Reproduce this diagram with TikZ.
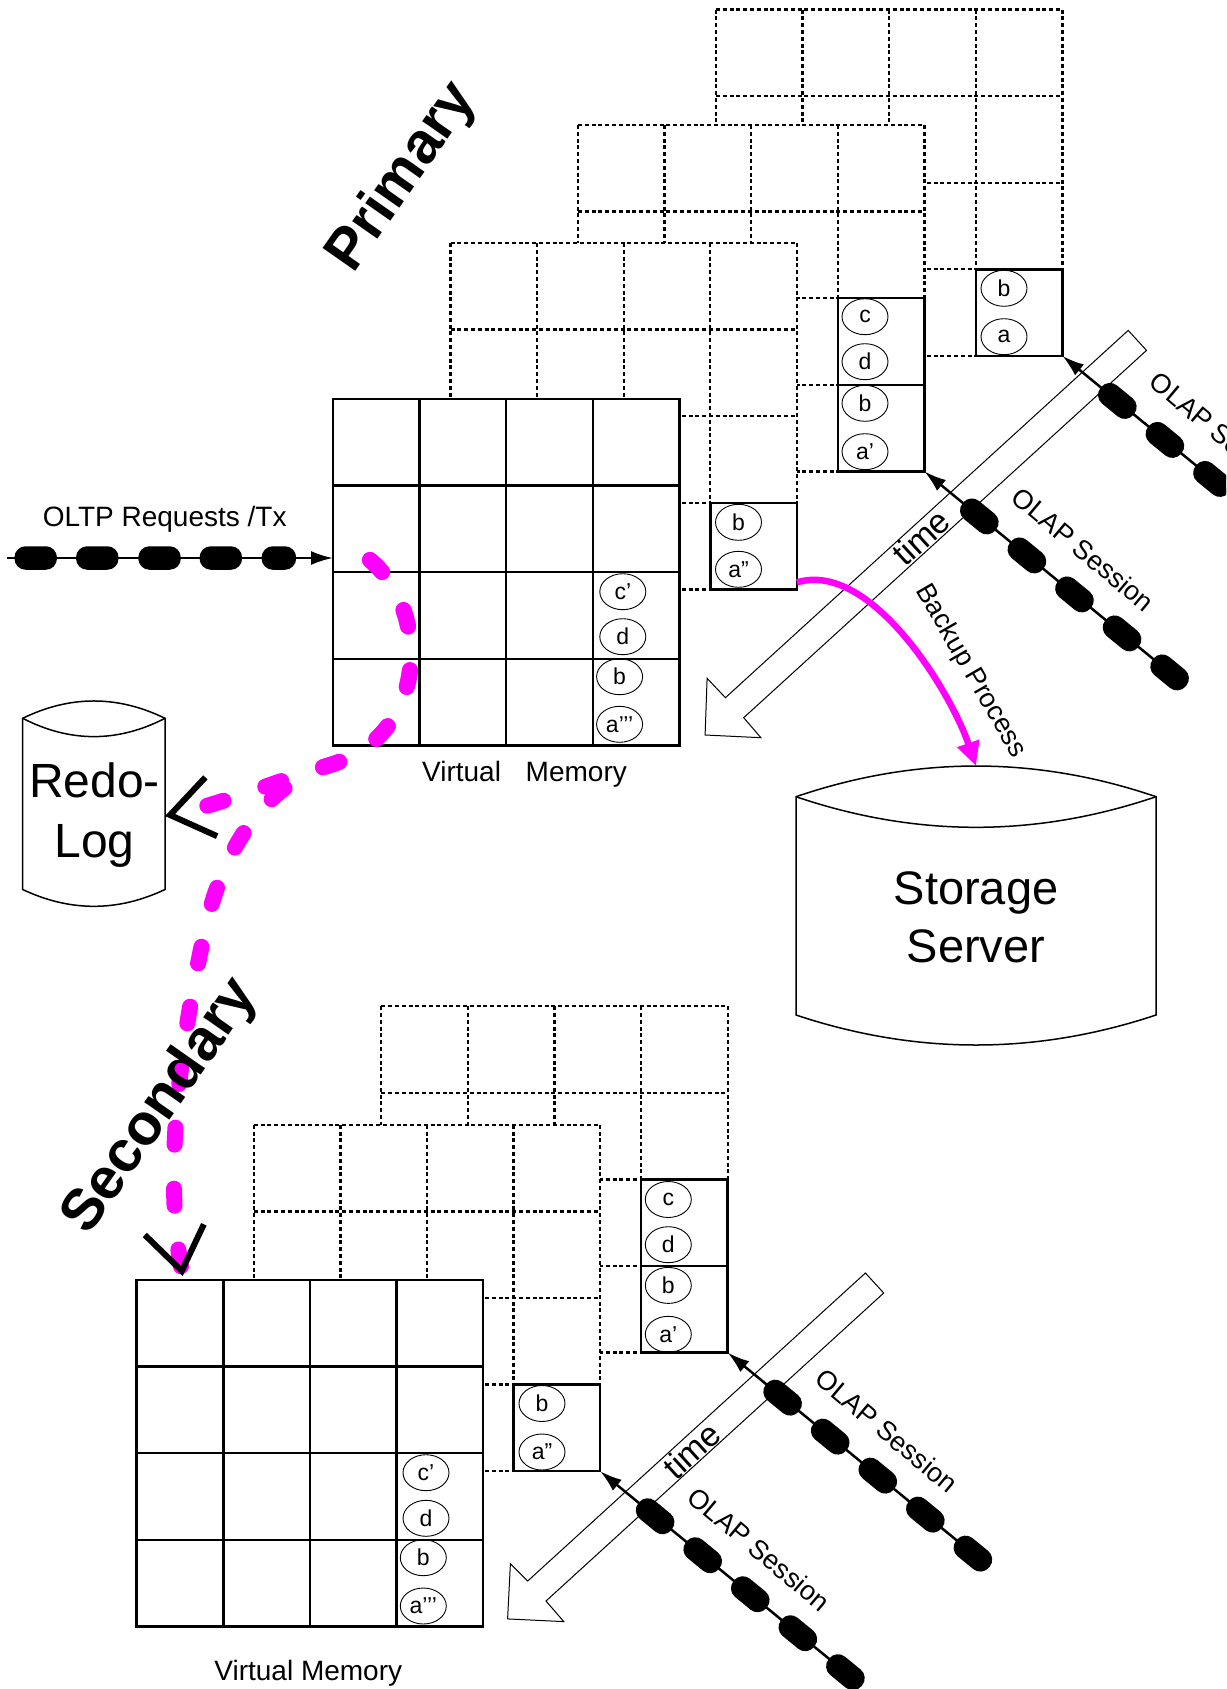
\documentclass[tikz,border=0pt]{standalone}
\usepackage{fontspec}
\setmainfont{Liberation Sans}
\usetikzlibrary{arrows.meta,shapes.geometric}
\definecolor{logmagenta}{HTML}{FF00FF}

\newcommand{\cellsz}{86.6}
% dotted 4x4 page layer with top left corner (#1,#2)
\newcommand{\memlayer}[2]{%
  \fill[white] (#1,#2) rectangle ++(4*\cellsz,4*\cellsz);
  \foreach \k in {0,...,4} {
    \draw[layergrid] (#1+\k*\cellsz,#2) -- ++(0,4*\cellsz);
    \draw[layergrid] (#1,#2+\k*\cellsz) -- ++(4*\cellsz,0);
  }%
}
% solid front grid, node name #1, top left corner (#2,#3)
\newcommand{\frontgrid}[3]{%
  \node[frontbox] (#1) at (#2+2*\cellsz,#3+2*\cellsz) {};
  \foreach \k in {1,2,3} {
    \draw[gridline] (#2+\k*\cellsz,#3) -- ++(0,4*\cellsz);
    \draw[gridline] (#2,#3+\k*\cellsz) -- ++(4*\cellsz,0);
  }%
}

\begin{document}
\begin{tikzpicture}[x=1pt,y=-1pt,
  layergrid/.style={line width=2.3pt,dash pattern=on 4pt off 2.8pt},
  gridline/.style={line width=2.5pt},
  frontbox/.style={draw,line width=2.5pt,fill=white,minimum width=346.4pt,minimum height=346.4pt,inner sep=0pt,outer sep=0pt},
  hotbox/.style={draw,line width=2.5pt,fill=white,minimum width=86.6pt,minimum height=86.6pt,inner sep=0pt,outer sep=0pt,anchor=north west},
  tuple/.style={ellipse,draw,line width=0.9pt,minimum width=46pt,minimum height=36pt,inner sep=0pt,font=\fontsize{23}{26}\selectfont},
  pill/.style={draw,fill=black,rounded corners=10pt,minimum width=40,minimum height=21pt,inner sep=0pt},
  sessline/.style={line width=2.5pt,-{Latex[length=22pt,width=14pt]}},
  txtlabel/.style={font=\fontsize{28}{34}\selectfont},
  sesslabel/.style={font=\fontsize{27}{32}\selectfont,rotate=-40},
  timearrow/.style={line width=1pt,fill=white},
  timelabel/.style={font=\fontsize{34}{40}\selectfont,rotate=42.4},
  backup/.style={logmagenta,line width=6.5pt,-{Triangle[length=24pt,width=22pt]}},
  logstream/.style={logmagenta,line width=16pt,line cap=round,dash pattern=on 17pt off 44pt,
    -{Straight Barb[length=42pt,width=60pt,line width=6pt,color=black]}},
  cylline/.style={line width=1.5pt},
  sitelabel/.style={font=\bfseries\fontsize{58}{64}\selectfont,rotate=55}]

  \useasboundingbox (0,0) rectangle (1226,1689);
  \clip (0,0) rectangle (1226,1689);

  % primary: page layers, back to front
  \memlayer{716}{9.5}
  \node[hotbox] (p3box) at (975.8,269.3) {};
  \node[tuple] (p3b) at (1004,288.3) {b};
  \node[tuple] (p3a) at (1004,336.7) {a};
  \memlayer{578}{125}
  \node[hotbox,minimum height=173.2pt] (p2box) at (837.8,298.2) {};
  \draw[gridline] (p2box.west) -- (p2box.east);
  \node[tuple] (p2c) at (865,316.7) {c};
  \node[tuple] (p2d) at (865,361.7) {d};
  \node[tuple] (p2b) at (865,403.3) {b};
  \node[tuple] (p2a) at (865,451.7) {a’};
  \memlayer{450.5}{243}
  \node[hotbox] (p1box) at (710.3,502.8) {};
  \node[tuple] (p1b) at (738.5,522.3) {b};
  \node[tuple] (p1a) at (738.5,569.3) {a”};
  \frontgrid{pfront}{333}{399}
  \node[tuple] (pfc) at (622.8,591.7) {c’};
  \node[tuple] (pfd) at (622.8,636.7) {d};
  \node[tuple] (pfb) at (619.6,676.7) {b};
  \node[tuple] (pfa) at (619.6,724.3) {a’’’};
  \node[txtlabel,anchor=base] (pvm) at (524.5,781.7) {Virtual\hspace{17pt} Memory};

  % secondary: page layers, back to front
  \memlayer{381.3}{1006.2}
  \node[hotbox,minimum height=173.2pt] (s2box) at (641.1,1179.4) {};
  \draw[gridline] (s2box.west) -- (s2box.east);
  \node[tuple] (s2c) at (668.3,1199.5) {c};
  \node[tuple] (s2d) at (668.3,1244.7) {d};
  \node[tuple] (s2b) at (668.3,1285.4) {b};
  \node[tuple] (s2a) at (668.3,1334.3) {a’};
  \memlayer{253.8}{1124.8}
  \node[hotbox] (s1box) at (513.6,1384.6) {};
  \node[tuple] (s1b) at (542,1403.5) {b};
  \node[tuple] (s1a) at (542,1452) {a”};
  \frontgrid{sfront}{136.7}{1280}
  \node[tuple] (sfc) at (426,1472.7) {c’};
  \node[tuple] (sfd) at (426,1518.3) {d};
  \node[tuple] (sfb) at (423.3,1557.7) {b};
  \node[tuple] (sfa) at (423.3,1606) {a’’’};
  \node[txtlabel,anchor=base] (svm) at (308.3,1680) {Virtual Memory};

  % time arrows
  \draw[timearrow] (705.1,735) -- ++(2,-56.7) -- ++(18.3,19.4) -- ++(402.8,-367.3)
    -- ++(18.3,20) -- ++(-402.8,367.3) -- ++(17.2,20) -- cycle;
  \node[timelabel] (ptime) at (921,537) {time};
  \draw[timearrow] (507.6,1618.9) -- ++(2.8,-55.2) -- ++(17.3,17.3) -- ++(337.7,-308)
    -- ++(18.3,20) -- ++(-337.7,308) -- ++(17.8,20.6) -- cycle;
  \node[timelabel] (stime) at (691.7,1450.5) {time};

  % OLAP sessions
  \coordinate (psessA) at ([shift={(245.2,201)}]p2box.south east);
  \coordinate (psessB) at ([shift={(245.2,201)}]p3box.south east);
  \coordinate (ssessA) at ([shift={(245.2,201)}]s2box.south east);
  \coordinate (ssessB) at ([shift={(245.2,201)}]s1box.south east);
  \draw[sessline] (psessA) -- (p2box.south east)
    foreach \p [count=\i] in {0,0.194,0.388,0.582,0.776} {node[pill,sloped,pos=\p] (pa\i) {}};
  \draw[sessline] (psessB) -- (p3box.south east)
    foreach \p [count=\i] in {0,0.194,0.388,0.582,0.776} {node[pill,sloped,pos=\p] (pb\i) {}};
  \draw[sessline] (ssessA) -- (s2box.south east)
    foreach \p [count=\i] in {0,0.194,0.388,0.582,0.776} {node[pill,sloped,pos=\p] (sa\i) {}};
  \draw[sessline] (ssessB) -- (s1box.south east)
    foreach \p [count=\i] in {0,0.194,0.388,0.582,0.776} {node[pill,sloped,pos=\p] (sb\i) {}};
  \node[sesslabel] (psla) at ([shift={(159,78)}]p2box.south east) {OLAP Session};
  \node[sesslabel] (pslb) at ([shift={(159,78)}]p3box.south east) {OLAP Session};
  \node[sesslabel] (ssla) at ([shift={(159,78)}]s2box.south east) {OLAP Session};
  \node[sesslabel] (sslb) at ([shift={(159,78)}]s1box.south east) {OLAP Session};

  % OLTP requests
  \coordinate (txsrc) at (7,558);
  \node[txtlabel,anchor=base] (oltp) at (164.7,526.7) {OLTP Requests /Tx};
  \draw[sessline] (txsrc) -- ([yshift=14.2pt]pfront.west)
    foreach \p/\w [count=\i] in {0.088/40,0.277/40,0.468/40,0.656/40,0.834/32} {node[pill,pos=\p,minimum width=\w] (tx\i) {}};

  % storage server and redo log
  \filldraw[cylline,fill=white] (796,796.7) .. controls (916,755.8) and (1036,755.8) .. (1156,796.7)
    -- (1156,1015) .. controls (1036,1055) and (916,1055) .. (796,1015) -- cycle;
  \draw[cylline] (796,796.7) .. controls (916,837.5) and (1036,837.5) .. (1156,796.7);
  \node[align=center,font=\fontsize{47}{58}\selectfont] (store) at (976,917) {Storage\\Server};
  \coordinate (storetop) at (976,766);
  \filldraw[cylline,fill=white] (22.7,718.3) .. controls (70.1,695.2) and (117.6,695.2) .. (165,718.3)
    -- (165,889.5) .. controls (117.6,911.9) and (70.1,911.9) .. (22.7,889.5) -- cycle;
  \draw[cylline] (22.7,718.3) .. controls (70.1,742.7) and (117.6,742.7) .. (165,718.3);
  \node[align=center,font=\fontsize{48}{60}\selectfont] (redo) at (94.5,814.7) {Redo-\\Log};
  \coordinate (redoport) at (165,816);

  % backup process
  \draw[backup] ([yshift=7pt]p1box.south east) .. controls (870,560) and (950,690) .. (storetop);
  \node[sesslabel,rotate=-20] (bkp) at (970.5,671) {Backup Process};

  % log shipping
  \coordinate (txin) at (370,560);
  \coordinate (logfork) at (330,765);
  \draw[logstream] (txin) .. controls (430,610) and (430,735) .. (logfork)
    .. controls (280,780) and (220,805) .. (redoport);
  \draw[logstream] (txin) .. controls (430,610) and (430,735) .. (logfork)
    .. controls (270,783) and (225,840) .. (205,930)
    .. controls (190,1000) and (160,1150) .. ([xshift=46pt,yshift=4pt]sfront.north west);

  \node[sitelabel] (primlbl) at (403,177.5) {Primary};
  \node[sitelabel] (seclbl) at (160.8,1106.7) {Secondary};
\end{tikzpicture}
\end{document}
